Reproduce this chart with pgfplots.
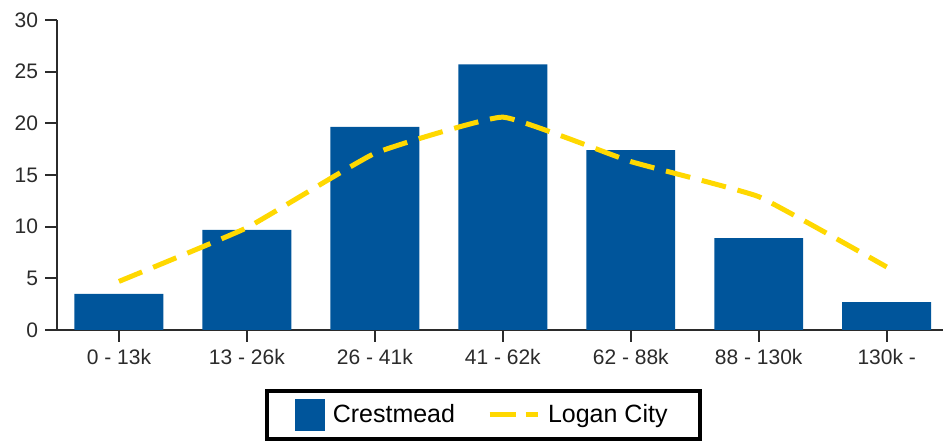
\documentclass[border=0pt]{standalone}
\usepackage{fontspec}
\setmainfont{Liberation Sans}
\usepackage{pgfplots}
\pgfplotsset{compat=1.18}

\definecolor{barblue}{HTML}{00559B}
\definecolor{lineyellow}{HTML}{FFD800}
\definecolor{axisgray}{HTML}{2B2B2B}

\begin{document}
\begin{tikzpicture}
\useasboundingbox (0,0) rectangle (471.5pt,221pt);
\begin{axis}[
  at={(28.5pt,56pt)}, anchor=south west,
  scale only axis, width=443pt, height=155pt,
  xmin=-0.484, xmax=6.44, ymin=0, ymax=30,
  axis lines=left,
  axis line style={-, axisgray, line width=0.9pt},
  xtick={0,...,6},
  xticklabels={0 - 13k, 13 - 26k, 26 - 41k, 41 - 62k, 62 - 88k, 88 - 130k, 130k -},
  ytick={0,5,...,30},
  tick align=outside, major tick length=6pt,
  tick style={axisgray, line width=0.9pt},
  ticklabel style={font=\fontsize{10.5}{12}\selectfont, text=axisgray},
  /pgf/number format/assume math mode=true,
  legend style={at={(0.481,-0.274)}, anchor=center, draw=black, line width=2pt,
    font=\fontsize{12.5}{14}\selectfont, legend columns=2,
    inner xsep=14pt, inner ysep=4pt,
    /tikz/every odd column/.append style={column sep=2pt},
    /tikz/every even column/.append style={column sep=14pt}},
]
\addplot[ybar, bar width=0.695, fill=barblue, draw=none,
  legend image code/.code={\fill[barblue] (0pt,-8pt) rectangle (15pt,8pt);}]
  coordinates {(0,3.5) (1,9.7) (2,19.65) (3,25.7) (4,17.4) (5,8.9) (6,2.7)};
\addplot[lineyellow, line width=2.5pt, dash pattern=on 12.5pt off 6pt, smooth, tension=0.2,
  legend image code/.code={\draw[lineyellow, line width=2.5pt, dash pattern=on 13pt off 5pt] (0pt,0pt) -- (24pt,0pt);}]
  coordinates {(0,4.7) (1,9.9) (2,17.1) (3,20.6) (4,16.3) (5,12.9) (6,6.1)};
\legend{Crestmead, Logan City}
\end{axis}
\end{tikzpicture}
\end{document}
